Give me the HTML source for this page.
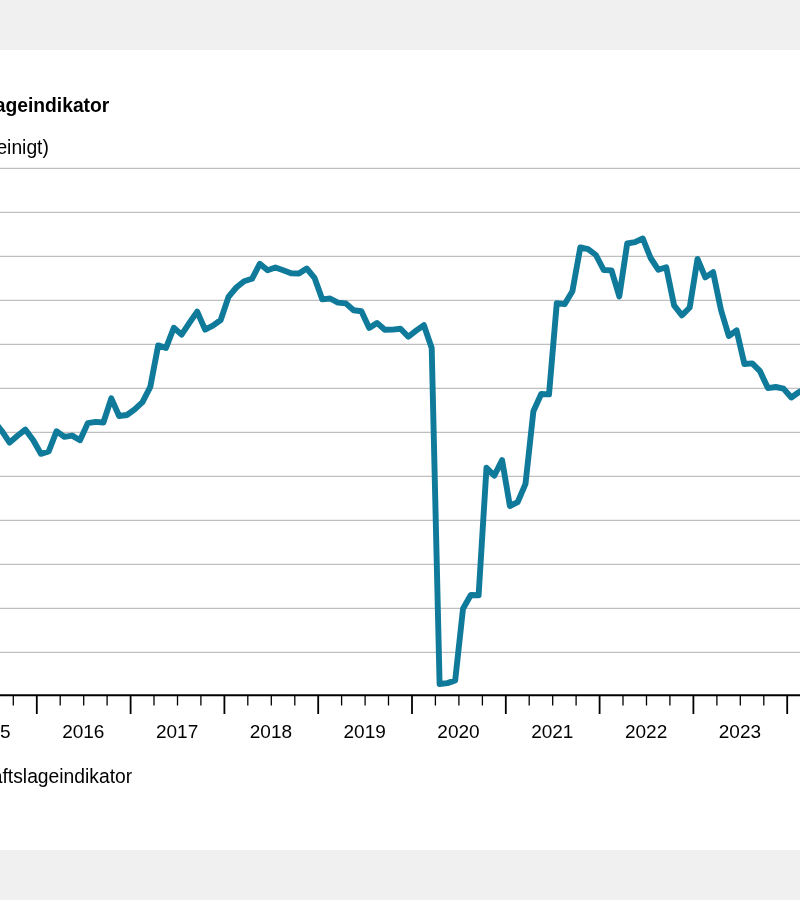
<!DOCTYPE html>
<html lang="de"><head><meta charset="utf-8"><title>KOF Geschäftslageindikator</title>
<style>
html,body{margin:0;padding:0;}
body{width:800px;height:900px;background:#f0f0f0;position:relative;overflow:hidden;font-family:"Liberation Sans",Arial,sans-serif;}
.card{position:absolute;left:0;top:50px;width:800px;height:800px;background:#fff;}
svg text{font-family:"Liberation Sans",Arial,sans-serif;fill:#000;}
</style></head><body>
<div class="card"></div>
<svg width="800" height="800" viewBox="0 50 800 800" style="position:absolute;left:0;top:50px;will-change:transform">
<line x1="0" x2="800" y1="168.35" y2="168.35" stroke="#bfbfbf" stroke-width="1.4"/>
<line x1="0" x2="800" y1="212.35" y2="212.35" stroke="#bfbfbf" stroke-width="1.4"/>
<line x1="0" x2="800" y1="256.35" y2="256.35" stroke="#bfbfbf" stroke-width="1.4"/>
<line x1="0" x2="800" y1="300.35" y2="300.35" stroke="#bfbfbf" stroke-width="1.4"/>
<line x1="0" x2="800" y1="344.35" y2="344.35" stroke="#bfbfbf" stroke-width="1.4"/>
<line x1="0" x2="800" y1="388.35" y2="388.35" stroke="#bfbfbf" stroke-width="1.4"/>
<line x1="0" x2="800" y1="432.35" y2="432.35" stroke="#bfbfbf" stroke-width="1.4"/>
<line x1="0" x2="800" y1="476.35" y2="476.35" stroke="#bfbfbf" stroke-width="1.4"/>
<line x1="0" x2="800" y1="520.35" y2="520.35" stroke="#bfbfbf" stroke-width="1.4"/>
<line x1="0" x2="800" y1="564.35" y2="564.35" stroke="#bfbfbf" stroke-width="1.4"/>
<line x1="0" x2="800" y1="608.35" y2="608.35" stroke="#bfbfbf" stroke-width="1.4"/>
<line x1="0" x2="800" y1="652.35" y2="652.35" stroke="#bfbfbf" stroke-width="1.4"/>
<polyline points="-6.0,421.0 1.8,431.0 9.6,442.6 17.5,435.8 25.3,429.6 33.1,440.0 40.9,453.8 48.7,451.5 56.5,431.2 64.4,436.9 72.2,435.6 80.0,440.2 87.8,423.1 95.6,421.9 103.4,422.5 111.3,398.4 119.1,416.0 126.9,415.0 134.7,409.4 142.5,402.2 150.3,386.9 158.2,345.4 166.0,348.0 173.8,327.8 181.6,334.6 189.4,322.9 197.2,311.6 205.1,329.6 212.9,325.6 220.7,320.0 228.5,296.9 236.3,287.5 244.1,281.2 252.0,278.8 259.8,263.8 267.6,270.2 275.4,267.5 283.2,270.2 291.0,273.2 298.9,273.5 306.7,268.5 314.5,277.8 322.3,299.4 330.1,298.5 337.9,302.6 345.8,303.4 353.6,310.2 361.4,311.2 369.2,327.9 377.0,322.9 384.8,329.8 392.7,329.6 400.5,328.8 408.3,336.7 416.1,330.6 423.9,325.2 431.7,348.0 439.6,684.0 447.4,683.1 455.2,680.4 463.0,608.8 470.8,595.0 478.6,595.2 486.5,467.8 494.3,475.6 502.1,460.2 509.9,506.0 517.7,502.2 525.5,483.8 533.4,411.2 541.2,394.0 549.0,394.4 556.8,303.1 564.6,304.2 572.4,291.2 580.3,247.5 588.1,249.2 595.9,255.0 603.7,270.0 611.5,270.4 619.3,296.4 627.2,243.5 635.0,242.2 642.8,238.5 650.6,258.0 658.4,269.8 666.2,267.2 674.1,305.4 681.9,315.3 689.7,307.5 697.5,258.9 705.3,277.4 713.1,272.2 721.0,310.0 728.8,336.0 736.6,330.3 744.4,364.0 752.2,363.4 760.0,371.2 767.9,388.1 775.7,387.0 783.5,388.6 791.3,397.5 799.1,392.0 806.9,388.0" fill="none" stroke="#0f7a9a" stroke-width="5.9" stroke-linejoin="round" stroke-linecap="round"/>
<line x1="0" x2="800" y1="695.3" y2="695.3" stroke="#000" stroke-width="2"/>
<line x1="-57.0" x2="-57.0" y1="695.3" y2="714.0" stroke="#000" stroke-width="1.8"/>
<line x1="-33.5" x2="-33.5" y1="695.3" y2="705.5" stroke="#000" stroke-width="1.3"/>
<line x1="-10.1" x2="-10.1" y1="695.3" y2="705.5" stroke="#000" stroke-width="1.3"/>
<line x1="13.3" x2="13.3" y1="695.3" y2="705.5" stroke="#000" stroke-width="1.3"/>
<text x="-10.5" y="738" text-anchor="middle" font-size="19">2015</text>
<line x1="36.8" x2="36.8" y1="695.3" y2="714.0" stroke="#000" stroke-width="1.8"/>
<line x1="60.2" x2="60.2" y1="695.3" y2="705.5" stroke="#000" stroke-width="1.3"/>
<line x1="83.7" x2="83.7" y1="695.3" y2="705.5" stroke="#000" stroke-width="1.3"/>
<line x1="107.1" x2="107.1" y1="695.3" y2="705.5" stroke="#000" stroke-width="1.3"/>
<text x="83.3" y="738" text-anchor="middle" font-size="19">2016</text>
<line x1="130.6" x2="130.6" y1="695.3" y2="714.0" stroke="#000" stroke-width="1.8"/>
<line x1="154.0" x2="154.0" y1="695.3" y2="705.5" stroke="#000" stroke-width="1.3"/>
<line x1="177.5" x2="177.5" y1="695.3" y2="705.5" stroke="#000" stroke-width="1.3"/>
<line x1="200.9" x2="200.9" y1="695.3" y2="705.5" stroke="#000" stroke-width="1.3"/>
<text x="177.1" y="738" text-anchor="middle" font-size="19">2017</text>
<line x1="224.4" x2="224.4" y1="695.3" y2="714.0" stroke="#000" stroke-width="1.8"/>
<line x1="247.8" x2="247.8" y1="695.3" y2="705.5" stroke="#000" stroke-width="1.3"/>
<line x1="271.3" x2="271.3" y1="695.3" y2="705.5" stroke="#000" stroke-width="1.3"/>
<line x1="294.8" x2="294.8" y1="695.3" y2="705.5" stroke="#000" stroke-width="1.3"/>
<text x="270.9" y="738" text-anchor="middle" font-size="19">2018</text>
<line x1="318.2" x2="318.2" y1="695.3" y2="714.0" stroke="#000" stroke-width="1.8"/>
<line x1="341.6" x2="341.6" y1="695.3" y2="705.5" stroke="#000" stroke-width="1.3"/>
<line x1="365.1" x2="365.1" y1="695.3" y2="705.5" stroke="#000" stroke-width="1.3"/>
<line x1="388.5" x2="388.5" y1="695.3" y2="705.5" stroke="#000" stroke-width="1.3"/>
<text x="364.7" y="738" text-anchor="middle" font-size="19">2019</text>
<line x1="412.0" x2="412.0" y1="695.3" y2="714.0" stroke="#000" stroke-width="1.8"/>
<line x1="435.4" x2="435.4" y1="695.3" y2="705.5" stroke="#000" stroke-width="1.3"/>
<line x1="458.9" x2="458.9" y1="695.3" y2="705.5" stroke="#000" stroke-width="1.3"/>
<line x1="482.4" x2="482.4" y1="695.3" y2="705.5" stroke="#000" stroke-width="1.3"/>
<text x="458.5" y="738" text-anchor="middle" font-size="19">2020</text>
<line x1="505.8" x2="505.8" y1="695.3" y2="714.0" stroke="#000" stroke-width="1.8"/>
<line x1="529.2" x2="529.2" y1="695.3" y2="705.5" stroke="#000" stroke-width="1.3"/>
<line x1="552.7" x2="552.7" y1="695.3" y2="705.5" stroke="#000" stroke-width="1.3"/>
<line x1="576.1" x2="576.1" y1="695.3" y2="705.5" stroke="#000" stroke-width="1.3"/>
<text x="552.3" y="738" text-anchor="middle" font-size="19">2021</text>
<line x1="599.6" x2="599.6" y1="695.3" y2="714.0" stroke="#000" stroke-width="1.8"/>
<line x1="623.0" x2="623.0" y1="695.3" y2="705.5" stroke="#000" stroke-width="1.3"/>
<line x1="646.5" x2="646.5" y1="695.3" y2="705.5" stroke="#000" stroke-width="1.3"/>
<line x1="669.9" x2="669.9" y1="695.3" y2="705.5" stroke="#000" stroke-width="1.3"/>
<text x="646.1" y="738" text-anchor="middle" font-size="19">2022</text>
<line x1="693.4" x2="693.4" y1="695.3" y2="714.0" stroke="#000" stroke-width="1.8"/>
<line x1="716.9" x2="716.9" y1="695.3" y2="705.5" stroke="#000" stroke-width="1.3"/>
<line x1="740.3" x2="740.3" y1="695.3" y2="705.5" stroke="#000" stroke-width="1.3"/>
<line x1="763.8" x2="763.8" y1="695.3" y2="705.5" stroke="#000" stroke-width="1.3"/>
<text x="739.9" y="738" text-anchor="middle" font-size="19">2023</text>
<line x1="787.2" x2="787.2" y1="695.3" y2="714.0" stroke="#000" stroke-width="1.8"/>
<line x1="810.6" x2="810.6" y1="695.3" y2="705.5" stroke="#000" stroke-width="1.3"/>
<line x1="834.1" x2="834.1" y1="695.3" y2="705.5" stroke="#000" stroke-width="1.3"/>
<line x1="857.5" x2="857.5" y1="695.3" y2="705.5" stroke="#000" stroke-width="1.3"/>
<text x="833.7" y="738" text-anchor="middle" font-size="19">2024</text>
<text x="109.3" y="112" text-anchor="end" font-size="19.3" font-weight="bold">KOF Geschäftslageindikator</text>
<text x="48.9" y="154.2" text-anchor="end" font-size="19.3">(Saldo, saisonbereinigt)</text>
<text x="132.2" y="782.7" text-anchor="end" font-size="19.3">KOF Geschäftslageindikator</text>
</svg>
</body></html>
